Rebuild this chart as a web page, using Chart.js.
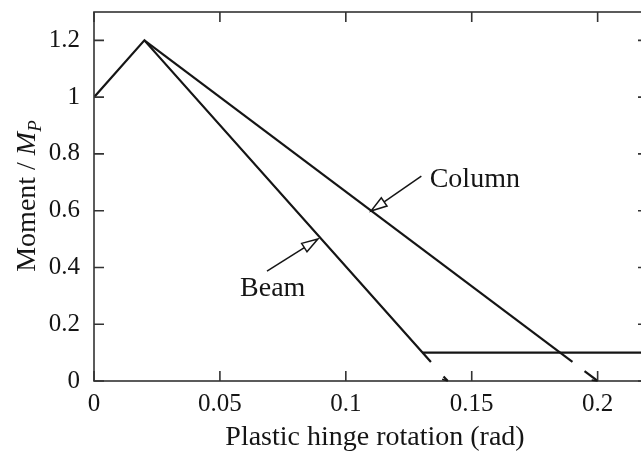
<!DOCTYPE html>
<html>
<head>
<meta charset="utf-8">
<script src="https://cdn.jsdelivr.net/npm/chart.js@4/dist/chart.umd.min.js"></script>
<style>
  html, body { margin: 0; padding: 0; background: #fff; overflow: hidden; }
  #wrap { position: relative; width: 660px; height: 453px; }
</style>
</head>
<body>
<div id="wrap"><canvas id="chart"></canvas></div>
<script>
// data (rotation in rad, moment / Mp)
const beamX = [0, 0.02, 0.1338];
const beamY = [1.0, 1.2, 0.067];
const beamTailX = [0.1388, 0.1405];
const beamTailY = [0.016, 0];
const columnX = [0.02, 0.19];
const columnY = [1.2, 0.067];
const columnTailX = [0.1948, 0.2];
const columnTailY = [0.035, 0];
const residualX = [0.1304, 0.22];
const residualY = [0.1, 0.1];
const xTicks = [0, 0.05, 0.1, 0.15, 0.2];
const yTicks = [0, 0.2, 0.4, 0.6, 0.8, 1, 1.2];

// annotations: label text, label anchor, arrow tail -> tip (data units)
const notes = [
  { text: 'Column', at: [0.1333, 0.708], from: [0.130, 0.722], to: [0.110, 0.599] },
  { text: 'Beam', at: [0.058, 0.327], from: [0.0687, 0.387], to: [0.0889, 0.500] }
];

const toPts = (xs, ys) => xs.map((x, i) => ({ x: x, y: ys[i] }));
const SERIF = '"Liberation Serif", "Times New Roman", serif';
const INK = '#151515';

function lineDs(xs, ys) {
  return {
    data: toPts(xs, ys),
    showLine: true,
    borderColor: INK,
    borderWidth: 2.2,
    pointRadius: 0,
    fill: false,
    tension: 0
  };
}

function arrow(ctx, x0, y0, x1, y1) {
  const ang = Math.atan2(y1 - y0, x1 - x0);
  const len = 16, half = 5;
  const bx = x1 - len * Math.cos(ang), by = y1 - len * Math.sin(ang);
  ctx.beginPath();
  ctx.moveTo(x0, y0);
  ctx.lineTo(bx, by);
  ctx.stroke();
  ctx.beginPath();
  ctx.moveTo(x1, y1);
  ctx.lineTo(bx + half * Math.sin(ang), by - half * Math.cos(ang));
  ctx.lineTo(bx - half * Math.sin(ang), by + half * Math.cos(ang));
  ctx.closePath();
  ctx.fillStyle = '#fff';
  ctx.fill();
  ctx.stroke();
}

const framePlugin = {
  id: 'frame',
  afterDraw(chart) {
    const { ctx, chartArea: a, scales: { x, y } } = chart;
    ctx.save();
    ctx.strokeStyle = '#333';
    ctx.lineWidth = 1.6;
    ctx.strokeRect(a.left, a.top, a.right - a.left, a.bottom - a.top);

    // inward ticks on all four sides
    ctx.beginPath();
    x.ticks.forEach(t => {
      const px = x.getPixelForValue(t.value);
      ctx.moveTo(px, a.bottom); ctx.lineTo(px, a.bottom - 10);
      ctx.moveTo(px, a.top); ctx.lineTo(px, a.top + 10);
    });
    y.ticks.forEach(t => {
      const py = y.getPixelForValue(t.value);
      ctx.moveTo(a.left, py); ctx.lineTo(a.left + 10, py);
      ctx.moveTo(a.right, py); ctx.lineTo(a.right - 10, py);
    });
    ctx.stroke();

    // small arrowheads at the end of the tails
    ctx.strokeStyle = INK;
    ctx.lineWidth = 1.6;
    [[beamTailX, beamTailY], [columnTailX, columnTailY]].forEach(([xs, ys]) => {
      const x0 = x.getPixelForValue(xs[0]), y0 = y.getPixelForValue(ys[0]);
      const x1 = x.getPixelForValue(xs[1]), y1 = y.getPixelForValue(ys[1]);
      const ang = Math.atan2(y1 - y0, x1 - x0);
      ctx.beginPath();
      ctx.moveTo(x1 - 6 * Math.cos(ang - 0.5), y1 - 6 * Math.sin(ang - 0.5));
      ctx.lineTo(x1, y1);
      ctx.stroke();
    });

    // annotations
    ctx.lineWidth = 1.5;
    ctx.font = '28px ' + SERIF;
    ctx.textBaseline = 'middle';
    notes.forEach(n => {
      ctx.fillStyle = INK;
      ctx.fillText(n.text, x.getPixelForValue(n.at[0]), y.getPixelForValue(n.at[1]));
      arrow(ctx,
        x.getPixelForValue(n.from[0]), y.getPixelForValue(n.from[1]),
        x.getPixelForValue(n.to[0]), y.getPixelForValue(n.to[1]));
    });

    // axis titles
    ctx.fillStyle = INK;
    ctx.textBaseline = 'alphabetic';
    ctx.textAlign = 'center';
    ctx.font = '28px ' + SERIF;
    ctx.fillText('Plastic hinge rotation (rad)', 375, 445);

    ctx.translate(35, 196);
    ctx.rotate(-Math.PI / 2);
    const p1 = 'Moment / ', p2 = 'M', p3 = 'P';
    ctx.font = '28px ' + SERIF;
    const w1 = ctx.measureText(p1).width;
    ctx.font = 'italic 28px ' + SERIF;
    const w2 = ctx.measureText(p2).width;
    ctx.font = 'italic 19px ' + SERIF;
    const w3 = ctx.measureText(p3).width;
    let sx = -(w1 + w2 + w3) / 2;
    ctx.textAlign = 'left';
    ctx.font = '28px ' + SERIF;
    ctx.fillText(p1, sx, 0);
    sx += w1;
    ctx.font = 'italic 28px ' + SERIF;
    ctx.fillText(p2, sx, 0);
    sx += w2;
    ctx.font = 'italic 19px ' + SERIF;
    ctx.fillText(p3, sx, 6);
    ctx.restore();
  }
};

new Chart(document.getElementById('chart'), {
  type: 'scatter',
  data: {
    datasets: [
      lineDs(beamX, beamY),
      lineDs(beamTailX, beamTailY),
      lineDs(columnX, columnY),
      lineDs(columnTailX, columnTailY),
      lineDs(residualX, residualY)
    ]
  },
  options: {
    responsive: true,
    maintainAspectRatio: false,
    animation: false,
    layout: { padding: { top: 12, right: 12, left: 0, bottom: 0 } },
    plugins: { legend: { display: false }, tooltip: { enabled: false } },
    scales: {
      x: {
        type: 'linear',
        min: 0,
        max: 0.22,
        afterFit: s => { s.height = 72; s.paddingLeft = 0; s.paddingRight = 0; },
        afterBuildTicks: s => { s.ticks = xTicks.map(v => ({ value: v })); },
        grid: { display: false, drawTicks: false },
        border: { display: false },
        ticks: {
          padding: 8,
          color: INK,
          font: { family: SERIF, size: 25 },
          maxRotation: 0,
          callback: v => String(v)
        }
      },
      y: {
        type: 'linear',
        min: 0,
        max: 1.3,
        afterFit: s => { s.width = 94; s.paddingTop = 0; s.paddingBottom = 0; },
        afterBuildTicks: s => { s.ticks = yTicks.map(v => ({ value: v })); },
        grid: { display: false, drawTicks: false },
        border: { display: false },
        ticks: {
          padding: 14,
          color: INK,
          font: { family: SERIF, size: 25 },
          callback: v => String(v)
        }
      }
    }
  },
  plugins: [framePlugin]
});
</script>
</body>
</html>
